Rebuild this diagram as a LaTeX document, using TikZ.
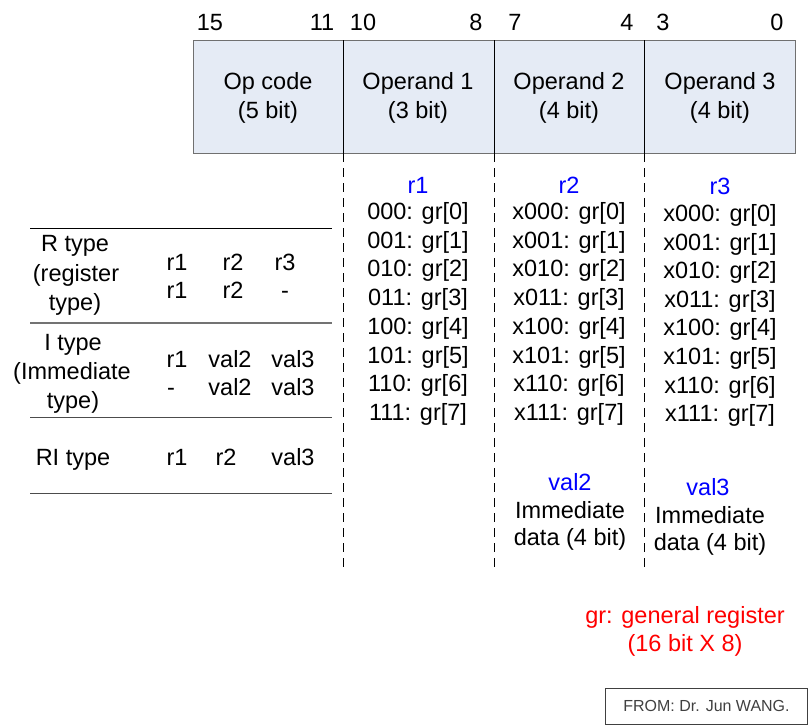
\documentclass[tikz,border=0pt]{standalone}
\usepackage{fontspec}
\setmainfont{Liberation Sans}
\definecolor{boxfill}{HTML}{E5EBF5}
\definecolor{boxline}{HTML}{707070}
\definecolor{fromgray}{HTML}{404040}
\begin{document}
\begin{tikzpicture}[x=1pt,y=-1pt,
  txt/.style={inner sep=0pt,font=\fontsize{23.5}{27}\selectfont,text=black,yshift=-2.5pt},
  bluetxt/.style={txt,text=blue},
  redtxt/.style={txt,text=red},
  field/.style={draw=boxline,fill=boxfill,line width=1pt},
  divider/.style={draw=black,line width=0.6pt},
  dashline/.style={draw=black,line width=0.7pt,dash pattern=on 9pt off 6pt},
  rule/.style={draw=black!70,line width=1pt}]
\useasboundingbox (0,0) rectangle (810,726);
% instruction box
\node[field,minimum width=602pt,minimum height=113pt,anchor=north west,inner sep=0pt] (box) at (193,40) {};
\coordinate (d1t) at (343,40); \coordinate (d1b) at (343,153);
\coordinate (d2t) at (494,40); \coordinate (d2b) at (494,153);
\coordinate (d3t) at (644,40); \coordinate (d3b) at (644,153);
\draw[divider] (d1t) -- (d1b);
\draw[divider] (d2t) -- (d2b);
\draw[divider] (d3t) -- (d3b);
% dashed guides
\coordinate (e1) at (343,567); \coordinate (e2) at (494,567); \coordinate (e3) at (644,567);
\draw[dashline] (d1b) -- (e1);
\draw[dashline] (d2b) -- (e2);
\draw[dashline] (d3b) -- (e3);
% bit numbers
\node[txt] (b15) at (210,20) {15};
\node[txt] (b11) at (322,20) {11};
\node[txt] (b10) at (363,20) {10};
\node[txt] (b8) at (476,20) {8};
\node[txt] (b7) at (515,20) {7};
\node[txt] (b4) at (627,20) {4};
\node[txt] (b3) at (663,20) {3};
\node[txt] (b0) at (777,20) {0};
% field labels
\node[txt] (f0a) at (268,81) {Op code};
\node[txt] (f0b) at (268,110) {(5 bit)};
\node[txt] (f1a) at (418,81) {Operand 1};
\node[txt] (f1b) at (418,110) {(3 bit)};
\node[txt] (f2a) at (569,81) {Operand 2};
\node[txt] (f2b) at (569,110) {(4 bit)};
\node[txt] (f3a) at (720,81) {Operand 3};
\node[txt] (f3b) at (720,110) {(4 bit)};
% register columns
\node[bluetxt] (r1h) at (418,183) {r1};
\node[bluetxt] (r2h) at (569,183) {r2};
\node[bluetxt] (r3h) at (720,184) {r3};
\foreach \b [count=\i from 0] in {000,001,010,011,100,101,110,111} {
  \node[txt] (ra\i) at (418,{211+28.7*\i}) {\b: gr[\i]};
  \node[txt] (rb\i) at (569,{211+28.7*\i}) {x\b: gr[\i]};
  \node[txt] (rc\i) at (720,{213+28.6*\i}) {x\b: gr[\i]};
}
% immediate values
\node[bluetxt] (v2) at (570,480) {val2};
\node[txt] (v2a) at (570,508) {Immediate};
\node[txt] (v2b) at (570,537) {data (4 bit)};
\node[bluetxt] (v3) at (708,485) {val3};
\node[txt] (v3a) at (710,513) {Immediate};
\node[txt] (v3b) at (710,542) {data (4 bit)};
% left table
\coordinate (l1a) at (30,228); \coordinate (l1b) at (332,228);
\coordinate (l2a) at (30,323); \coordinate (l2b) at (332,323);
\coordinate (l3a) at (30,417); \coordinate (l3b) at (332,417);
\coordinate (l4a) at (30,493); \coordinate (l4b) at (332,493);
\draw[draw=black,line width=0.8pt] (l1a) -- (l1b);
\draw[rule,draw=black!55,line width=1.3pt] (l2a) -- (l2b);
\draw[rule] (l3a) -- (l3b);
\draw[rule] (l4a) -- (l4b);
\node[txt] (rt1) at (75,243) {R type};
\node[txt] (rt2) at (76,273) {(register};
\node[txt] (rt3) at (75,302) {type)};
\node[txt] (rta) at (177,260) {r1};
\node[txt] (rtb) at (233,260) {r2};
\node[txt] (rtc) at (285,260) {r3};
\node[txt] (rtd) at (177,288) {r1};
\node[txt] (rte) at (233,288) {r2};
\node[txt,yshift=-4pt] (rtf) at (285,288) {-};
\node[txt] (it1) at (73,342) {I type};
\node[txt] (it2) at (72,371) {(Immediate};
\node[txt] (it3) at (73,400) {type)};
\node[txt] (ita) at (177,357) {r1};
\node[txt] (itb) at (230,357) {val2};
\node[txt] (itc) at (293,357) {val3};
\node[txt,yshift=-4pt] (itd) at (171,385) {-};
\node[txt] (ite) at (230,385) {val2};
\node[txt] (itf) at (293,385) {val3};
\node[txt] (ri1) at (73,457) {RI type};
\node[txt] (ria) at (177,455) {r1};
\node[txt] (rib) at (226,455) {r2};
\node[txt] (ric) at (293,455) {val3};
% legend
\node[redtxt] (g1) at (685,615) {gr: general register};
\node[redtxt] (g2) at (685,643) {(16 bit X 8)};
% source box
\node[draw=fromgray,line width=1pt,minimum width=202pt,minimum height=36pt,inner sep=0pt,
      font=\fontsize{16}{18}\selectfont,text=fromgray] (from) at (706.5,706) {FROM: Dr. Jun WANG.};
\end{tikzpicture}
\end{document}
